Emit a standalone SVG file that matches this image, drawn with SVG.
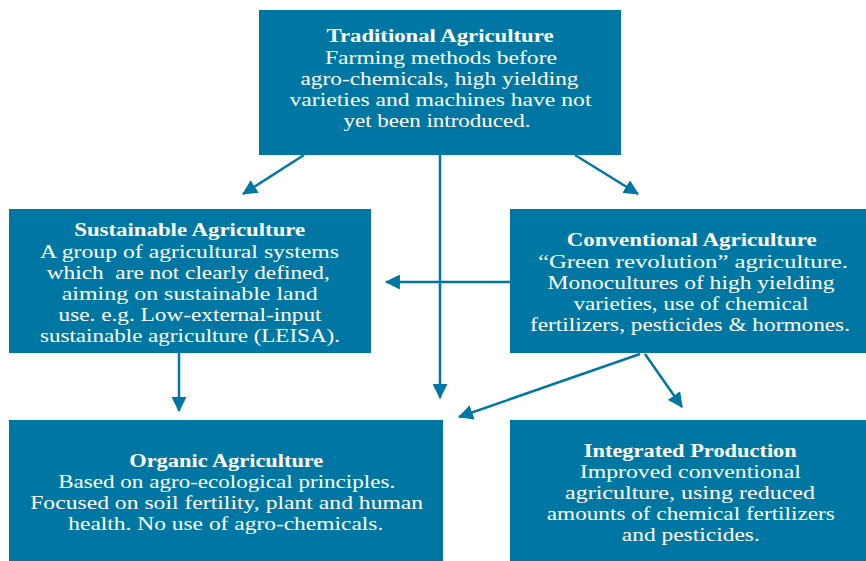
<svg xmlns="http://www.w3.org/2000/svg" width="866" height="561" viewBox="0 0 866 561">
<defs>
<style>
.box{fill:#0077a3}
.t{font-family:"Liberation Serif","Times New Roman",serif;font-size:18.9px;fill:#ffffff;text-anchor:middle}
.h{font-weight:bold}
.c{stroke:#0077a3;stroke-width:2.5;fill:none;marker-end:url(#ah)}
</style>
<marker id="ah" viewBox="0 0 14 14" refX="13" refY="7" markerWidth="15" markerHeight="15" markerUnits="userSpaceOnUse" orient="auto">
<path d="M0,0 L14,7 L0,14 Z" fill="#0077a3"/>
</marker>
</defs>
<rect width="866" height="561" fill="#ffffff"/>
<g id="connectors">
<line class="c" x1="304" y1="155" x2="243" y2="194"/>
<line class="c" x1="440" y1="155" x2="440" y2="398"/>
<line class="c" x1="575" y1="155" x2="638" y2="194"/>
<line class="c" x1="510" y1="282" x2="386" y2="282"/>
<line class="c" x1="179" y1="353" x2="179" y2="411"/>
<line class="c" x1="640" y1="354" x2="459" y2="417"/>
<line class="c" x1="645" y1="354" x2="682" y2="407"/>
</g>
<g id="traditional">
<rect class="box" x="259" y="10" width="362" height="145"/>
<text class="t h" x="440" y="42" textLength="227" lengthAdjust="spacingAndGlyphs">Traditional Agriculture</text>
<text class="t" x="441" y="64" textLength="232" lengthAdjust="spacingAndGlyphs">Farming methods before</text>
<text class="t" x="439.5" y="85" textLength="278" lengthAdjust="spacingAndGlyphs">agro-chemicals, high yielding</text>
<text class="t" x="440.5" y="106" textLength="302" lengthAdjust="spacingAndGlyphs">varieties and machines have not</text>
<text class="t" x="437" y="127" textLength="187" lengthAdjust="spacingAndGlyphs">yet been introduced.</text>
</g>
<g id="sustainable">
<rect class="box" x="9" y="209" width="362" height="144"/>
<text class="t h" x="189.7" y="236" textLength="231" lengthAdjust="spacingAndGlyphs">Sustainable Agriculture</text>
<text class="t" x="189.5" y="258" textLength="299" lengthAdjust="spacingAndGlyphs">A group of agricultural systems</text>
<text class="t" x="188.3" y="279" textLength="283" lengthAdjust="spacingAndGlyphs" xml:space="preserve">which  are not clearly defined,</text>
<text class="t" x="189.7" y="300" textLength="256" lengthAdjust="spacingAndGlyphs">aiming on sustainable land</text>
<text class="t" x="190" y="321" textLength="263" lengthAdjust="spacingAndGlyphs">use. e.g. Low-external-input</text>
<text class="t" x="190" y="342" textLength="300" lengthAdjust="spacingAndGlyphs">sustainable agriculture (LEISA).</text>
</g>
<g id="conventional">
<rect class="box" x="510" y="209" width="356" height="144"/>
<text class="t h" x="691.7" y="246" textLength="250" lengthAdjust="spacingAndGlyphs">Conventional Agriculture</text>
<text class="t" x="693" y="268" textLength="310" lengthAdjust="spacingAndGlyphs">“Green revolution” agriculture.</text>
<text class="t" x="691" y="289" textLength="287" lengthAdjust="spacingAndGlyphs">Monocultures of high yielding</text>
<text class="t" x="691" y="310" textLength="235" lengthAdjust="spacingAndGlyphs">varieties, use of chemical</text>
<text class="t" x="690" y="331" textLength="320" lengthAdjust="spacingAndGlyphs">fertilizers, pesticides &amp; hormones.</text>
</g>
<g id="organic">
<rect class="box" x="9" y="420" width="434" height="141"/>
<text class="t h" x="226.3" y="467" textLength="194" lengthAdjust="spacingAndGlyphs">Organic Agriculture</text>
<text class="t" x="226.7" y="488" textLength="337" lengthAdjust="spacingAndGlyphs">Based on agro-ecological principles.</text>
<text class="t" x="226.7" y="509" textLength="393" lengthAdjust="spacingAndGlyphs">Focused on soil fertility, plant and human</text>
<text class="t" x="225.8" y="530" textLength="315" lengthAdjust="spacingAndGlyphs">health. No use of agro-chemicals.</text>
</g>
<g id="integrated">
<rect class="box" x="510" y="420" width="356" height="141"/>
<text class="t h" x="690.3" y="457" textLength="213" lengthAdjust="spacingAndGlyphs">Integrated Production</text>
<text class="t" x="690.3" y="478" textLength="221" lengthAdjust="spacingAndGlyphs">Improved conventional</text>
<text class="t" x="690" y="499" textLength="250" lengthAdjust="spacingAndGlyphs">agriculture, using reduced</text>
<text class="t" x="690.8" y="520" textLength="288" lengthAdjust="spacingAndGlyphs">amounts of chemical fertilizers</text>
<text class="t" x="690.8" y="541" textLength="138" lengthAdjust="spacingAndGlyphs">and pesticides.</text>
</g>
</svg>
